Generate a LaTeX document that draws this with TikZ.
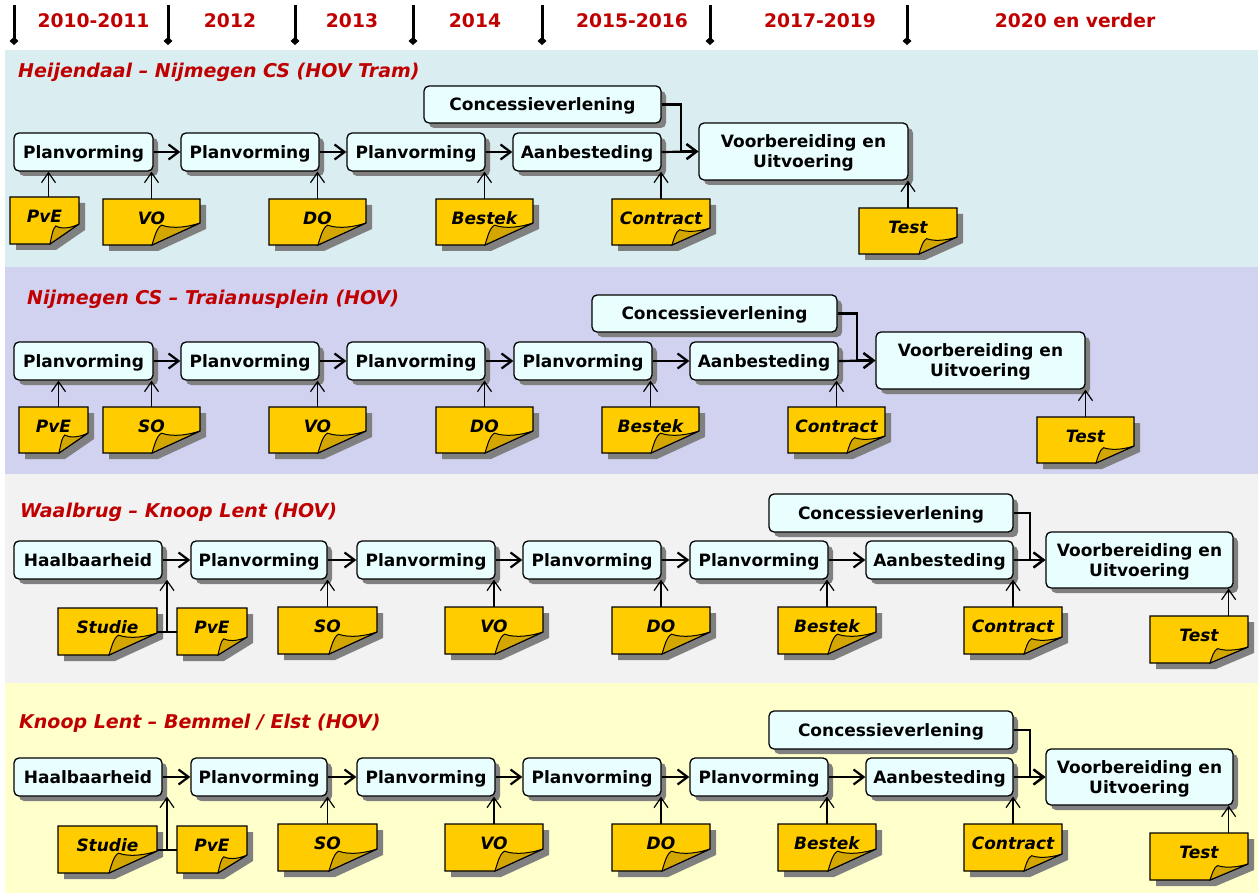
\documentclass[tikz,border=0pt]{standalone}
\usepackage{fontspec}
\setmainfont{DejaVu Sans}
\usetikzlibrary{arrows.meta,shadows}
\definecolor{bandA}{HTML}{DAEDF0}
\definecolor{bandB}{HTML}{D1D1F0}
\definecolor{bandC}{HTML}{F2F2F2}
\definecolor{bandD}{HTML}{FFFFCC}
\definecolor{boxfill}{HTML}{E9FFFF}
\definecolor{shadowgray}{HTML}{808080}
\definecolor{noteyellow}{HTML}{FFCC00}
\definecolor{flapgold}{HTML}{D4A600}
\definecolor{titlered}{HTML}{C00000}
\tikzset{
  box/.style={draw=black, line width=1.3pt, rounded corners=5pt, fill=boxfill, inner sep=0pt,
    font=\bfseries\fontsize{17}{20}\selectfont, align=center, text depth=0pt,
    drop shadow={shadow xshift=5pt, shadow yshift=-5pt, fill=shadowgray, opacity=1}},
  vbox/.style={box, font=\bfseries\fontsize{17}{20}\selectfont},
  notebody/.style={draw=black, line width=1.2pt, fill=noteyellow, line join=miter},
  flap/.style={draw=black, line width=1pt, fill=flapgold},
  notearea/.style={inner sep=0pt, draw=none},
  notetext/.style={inner sep=0pt, font=\bfseries\itshape\fontsize{17}{20}\selectfont},
  hor/.style={line width=2.2pt, -{Straight Barb[length=10pt,width=15pt]}},
  uparr/.style={line width=1.2pt, -{Straight Barb[length=10pt,width=14pt]}},
  joinline/.style={line width=1.2pt},
  tl/.style={line width=3pt, -{Diamond[length=8pt,width=9pt]}},
  year/.style={text=titlered, font=\bfseries\fontsize{18.7}{22}\selectfont},
  bandtitle/.style={text=titlered, anchor=west, inner sep=0pt, font=\bfseries\itshape\fontsize{19}{22}\selectfont}
}
\newcommand\bx[7][box]{\node[#1, minimum width={(#5-#3)*1pt}, minimum height={(#6-#4)*1pt}] (#2) at ({(#3+#5)/2},{(#4+#6)/2}) {#7};}
\newcommand\docnote[8]{%
  \pgfmathsetmacro\nw{#4-#2}\pgfmathsetmacro\nh{#5-#3}%
  \pgfmathsetmacro\fx{#6}\pgfmathsetmacro\fy{#7}%
  \pgfmathsetmacro\bxx{\nw-\fx}%
  \begin{scope}[shift={(#2,#3)}]
    \fill[shadowgray] (6,6) -- (\nw+6,6) -- (\nw+6,\nh-\fy+6) -- (\bxx+6,\nh+6) -- (6,\nh+6) -- cycle;
    \draw[notebody] (0,0) -- (\nw,0) -- (\nw,\nh-\fy) -- (\bxx,\nh) -- (0,\nh) -- cycle;
    \draw[flap] (\bxx,\nh) .. controls (\bxx+0.05*\fx,\nh-0.35*\fy) and (\bxx+0.1*\fx,\nh-0.8*\fy) .. (\bxx+0.2*\fx,\nh-0.9*\fy)
      .. controls (\bxx+0.45*\fx,\nh-0.7*\fy) and (\nw-0.2*\fx,\nh-0.85*\fy) .. (\nw,\nh-\fy) -- cycle;
  \end{scope}
  \node[notearea, minimum width={\nw*1pt}, minimum height={\nh*1pt}] (#1) at ({(#2+#4)/2},{(#3+#5)/2}) {};
  \node[notetext] (#1t) at ({(#2+#4)/2},{#3+19}) {#8};
}
\begin{document}
\begin{tikzpicture}[x=1pt,y=-1pt]
\useasboundingbox (0,0) rectangle (1258,893);
\fill[white] (0,0) rectangle (1258,893);
% bands
\fill[bandA] (5,50) rectangle (1258,267);
\fill[bandB] (5,267) rectangle (1258,474);
\fill[bandC] (5,474) rectangle (1258,683);
\fill[bandD] (5,683) rectangle (1258,893);
% timeline
\foreach \x [count=\i] in {14,168,295,413,542,710,907}{
  \coordinate (ts\i) at (\x,5);
  \coordinate (te\i) at (\x,45);
  \draw[tl] (ts\i) -- (te\i);
}
\node[year] (y1) at (93.5,21) {2010-2011};
\node[year] (y2) at (230,21) {2012};
\node[year] (y3) at (352,21) {2013};
\node[year] (y4) at (475,21) {2014};
\node[year] (y5) at (632,21) {2015-2016};
\node[year] (y6) at (820,21) {2017-2019};
\node[year] (y7) at (1075,21) {2020 en verder};
% ---------- band 1
\node[bandtitle] (t1) at (18,72) {Heijendaal – Nijmegen CS (HOV Tram)};
\docnote{apve}{10}{197}{79}{244}{29}{20}{PvE}
\docnote{avo}{103}{199}{200}{245}{48}{22}{VO}
\docnote{ado}{269}{199}{366}{245}{48}{22}{DO}
\docnote{abestek}{436}{199}{533}{245}{48}{22}{Bestek}
\docnote{acontract}{612}{199}{710}{245}{38}{17}{Contract}
\docnote{atest}{859}{208}{957}{254}{38}{17}{Test}
\bx{a1}{14}{133}{153}{171}{Planvorming}
\bx{a2}{181}{133}{319}{171}{Planvorming}
\bx{a3}{347}{133}{485}{171}{Planvorming}
\bx{a4}{513}{133}{661}{171}{Aanbesteding}
\bx{ac}{424}{86}{661}{123}{Concessieverlening}
\bx[vbox]{av}{699}{123}{908}{180}{Voorbereiding en\\Uitvoering}
\draw[hor] (a1.east) -- (a2.west);
\draw[hor] (a2.east) -- (a3.west);
\draw[hor] (a3.east) -- (a4.west);
\draw[hor] (a4.east) -- (av.west);
\draw[hor] (ac.east) -- ++(19,0) |- (av.west);
\draw[uparr] ([xshift=4pt]apve.north) -- ([xshift=4pt]apve.north |- a1.south);
\draw[uparr] (avo.north) -- (avo.north |- a1.south);
\draw[uparr] (ado.north) -- (ado.north |- a2.south);
\draw[uparr] (abestek.north) -- (abestek.north |- a3.south);
\draw[uparr] (acontract.north) -- (acontract.north |- a4.south);
\draw[uparr] (atest.north) -- (atest.north |- av.south);
% ---------- band 2
\node[bandtitle] (t2) at (27,299) {Nijmegen CS – Traianusplein (HOV)};
\docnote{bpve}{19}{407}{88}{453}{29}{20}{PvE}
\docnote{bso}{103}{407}{200}{453}{48}{22}{SO}
\docnote{bvo}{269}{407}{366}{453}{48}{22}{VO}
\docnote{bdo}{436}{407}{533}{453}{48}{22}{DO}
\docnote{bbestek}{602}{407}{699}{453}{48}{22}{Bestek}
\docnote{bcontract}{788}{407}{885}{453}{38}{17}{Contract}
\docnote{btest}{1037}{417}{1134}{463}{38}{17}{Test}
\bx{b1}{14}{342}{153}{380}{Planvorming}
\bx{b2}{181}{342}{319}{380}{Planvorming}
\bx{b3}{347}{342}{485}{380}{Planvorming}
\bx{b4}{514}{342}{652}{380}{Planvorming}
\bx{b5}{690}{342}{838}{380}{Aanbesteding}
\bx{bc}{592}{295}{837}{332}{Concessieverlening}
\bx[vbox]{bv}{876}{332}{1085}{389}{Voorbereiding en\\Uitvoering}
\draw[hor] (b1.east) -- (b2.west);
\draw[hor] (b2.east) -- (b3.west);
\draw[hor] (b3.east) -- (b4.west);
\draw[hor] (b4.east) -- (b5.west);
\draw[hor] (b5.east) -- (bv.west);
\draw[hor] (bc.east) -- ++(19,0) |- (bv.west);
\draw[uparr] ([xshift=5pt]bpve.north) -- ([xshift=5pt]bpve.north |- b1.south);
\draw[uparr] (bso.north) -- (bso.north |- b1.south);
\draw[uparr] (bvo.north) -- (bvo.north |- b2.south);
\draw[uparr] (bdo.north) -- (bdo.north |- b3.south);
\draw[uparr] (bbestek.north) -- (bbestek.north |- b4.south);
\draw[uparr] (bcontract.north) -- (bcontract.north |- b5.south);
\draw[uparr] (btest.north) -- (btest.north |- bv.south);
% ---------- band 3
\node[bandtitle] (t3) at (20,512) {Waalbrug – Knoop Lent (HOV)};
\docnote{cstudie}{58}{608}{157}{655}{48}{22}{Studie}
\docnote{cpve}{177}{608}{247}{655}{29}{18}{PvE}
\docnote{cso}{278}{607}{377}{654}{48}{22}{SO}
\docnote{cvo}{445}{607}{543}{654}{48}{22}{VO}
\docnote{cdo}{612}{607}{710}{654}{48}{22}{DO}
\docnote{cbestek}{778}{607}{876}{654}{48}{22}{Bestek}
\docnote{ccontract}{964}{607}{1062}{654}{38}{17}{Contract}
\docnote{ctest}{1150}{616}{1248}{663}{38}{16}{Test}
\bx{c0}{14}{541}{162}{579}{Haalbaarheid}
\bx{c1}{191}{541}{327}{579}{Planvorming}
\bx{c2}{357}{541}{495}{579}{Planvorming}
\bx{c3}{523}{541}{661}{579}{Planvorming}
\bx{c4}{690}{541}{828}{579}{Planvorming}
\bx{c5}{866}{541}{1013}{579}{Aanbesteding}
\bx{cc}{769}{494}{1013}{532}{Concessieverlening}
\bx[vbox]{cv}{1046}{532}{1233}{588}{Voorbereiding en\\Uitvoering}
\draw[hor] (c0.east) -- (c1.west);
\draw[hor] (c1.east) -- (c2.west);
\draw[hor] (c2.east) -- (c3.west);
\draw[hor] (c3.east) -- (c4.west);
\draw[hor] (c4.east) -- (c5.west);
\draw[hor] (c5.east) -- (cv.west);
\draw[hor] (cc.east) -- ++(16,0) |- (cv.west);
\coordinate (cj) at (167,632);
\draw[joinline] (cstudie.east |- cj) -- (cpve.west |- cj);
\draw[uparr] (cj) -- (cj |- c0.south);
\draw[uparr] (cso.north) -- (cso.north |- c1.south);
\draw[uparr] (cvo.north) -- (cvo.north |- c2.south);
\draw[uparr] (cdo.north) -- (cdo.north |- c3.south);
\draw[uparr] (cbestek.north) -- (cbestek.north |- c4.south);
\draw[uparr] (ccontract.north) -- (ccontract.north |- c5.south);
\draw[uparr] ([xshift=-5pt]cv.south east |- ctest.north) -- ([xshift=-5pt]cv.south east);
% ---------- band 4
\node[bandtitle] (t4) at (19,723) {Knoop Lent – Bemmel / Elst (HOV)};
\docnote{dstudie}{58}{826}{157}{873}{48}{22}{Studie}
\docnote{dpve}{177}{826}{247}{873}{29}{18}{PvE}
\docnote{dso}{278}{824}{377}{871}{48}{22}{SO}
\docnote{dvo}{445}{824}{543}{871}{48}{22}{VO}
\docnote{ddo}{612}{824}{710}{871}{48}{22}{DO}
\docnote{dbestek}{778}{824}{876}{871}{48}{22}{Bestek}
\docnote{dcontract}{964}{824}{1062}{871}{38}{17}{Contract}
\docnote{dtest}{1150}{833}{1248}{880}{38}{16}{Test}
\bx{d0}{14}{758}{162}{796}{Haalbaarheid}
\bx{d1}{191}{758}{327}{796}{Planvorming}
\bx{d2}{357}{758}{495}{796}{Planvorming}
\bx{d3}{523}{758}{661}{796}{Planvorming}
\bx{d4}{690}{758}{828}{796}{Planvorming}
\bx{d5}{866}{758}{1013}{796}{Aanbesteding}
\bx{dc}{769}{711}{1013}{749}{Concessieverlening}
\bx[vbox]{dv}{1046}{749}{1233}{805}{Voorbereiding en\\Uitvoering}
\draw[hor] (d0.east) -- (d1.west);
\draw[hor] (d1.east) -- (d2.west);
\draw[hor] (d2.east) -- (d3.west);
\draw[hor] (d3.east) -- (d4.west);
\draw[hor] (d4.east) -- (d5.west);
\draw[hor] (d5.east) -- (dv.west);
\draw[hor] (dc.east) -- ++(16,0) |- (dv.west);
\coordinate (dj) at (167,850);
\draw[joinline] (dstudie.east |- dj) -- (dpve.west |- dj);
\draw[uparr] (dj) -- (dj |- d0.south);
\draw[uparr] (dso.north) -- (dso.north |- d1.south);
\draw[uparr] (dvo.north) -- (dvo.north |- d2.south);
\draw[uparr] (ddo.north) -- (ddo.north |- d3.south);
\draw[uparr] (dbestek.north) -- (dbestek.north |- d4.south);
\draw[uparr] (dcontract.north) -- (dcontract.north |- d5.south);
\draw[uparr] ([xshift=-5pt]dv.south east |- dtest.north) -- ([xshift=-5pt]dv.south east);
\end{tikzpicture}
\end{document}
